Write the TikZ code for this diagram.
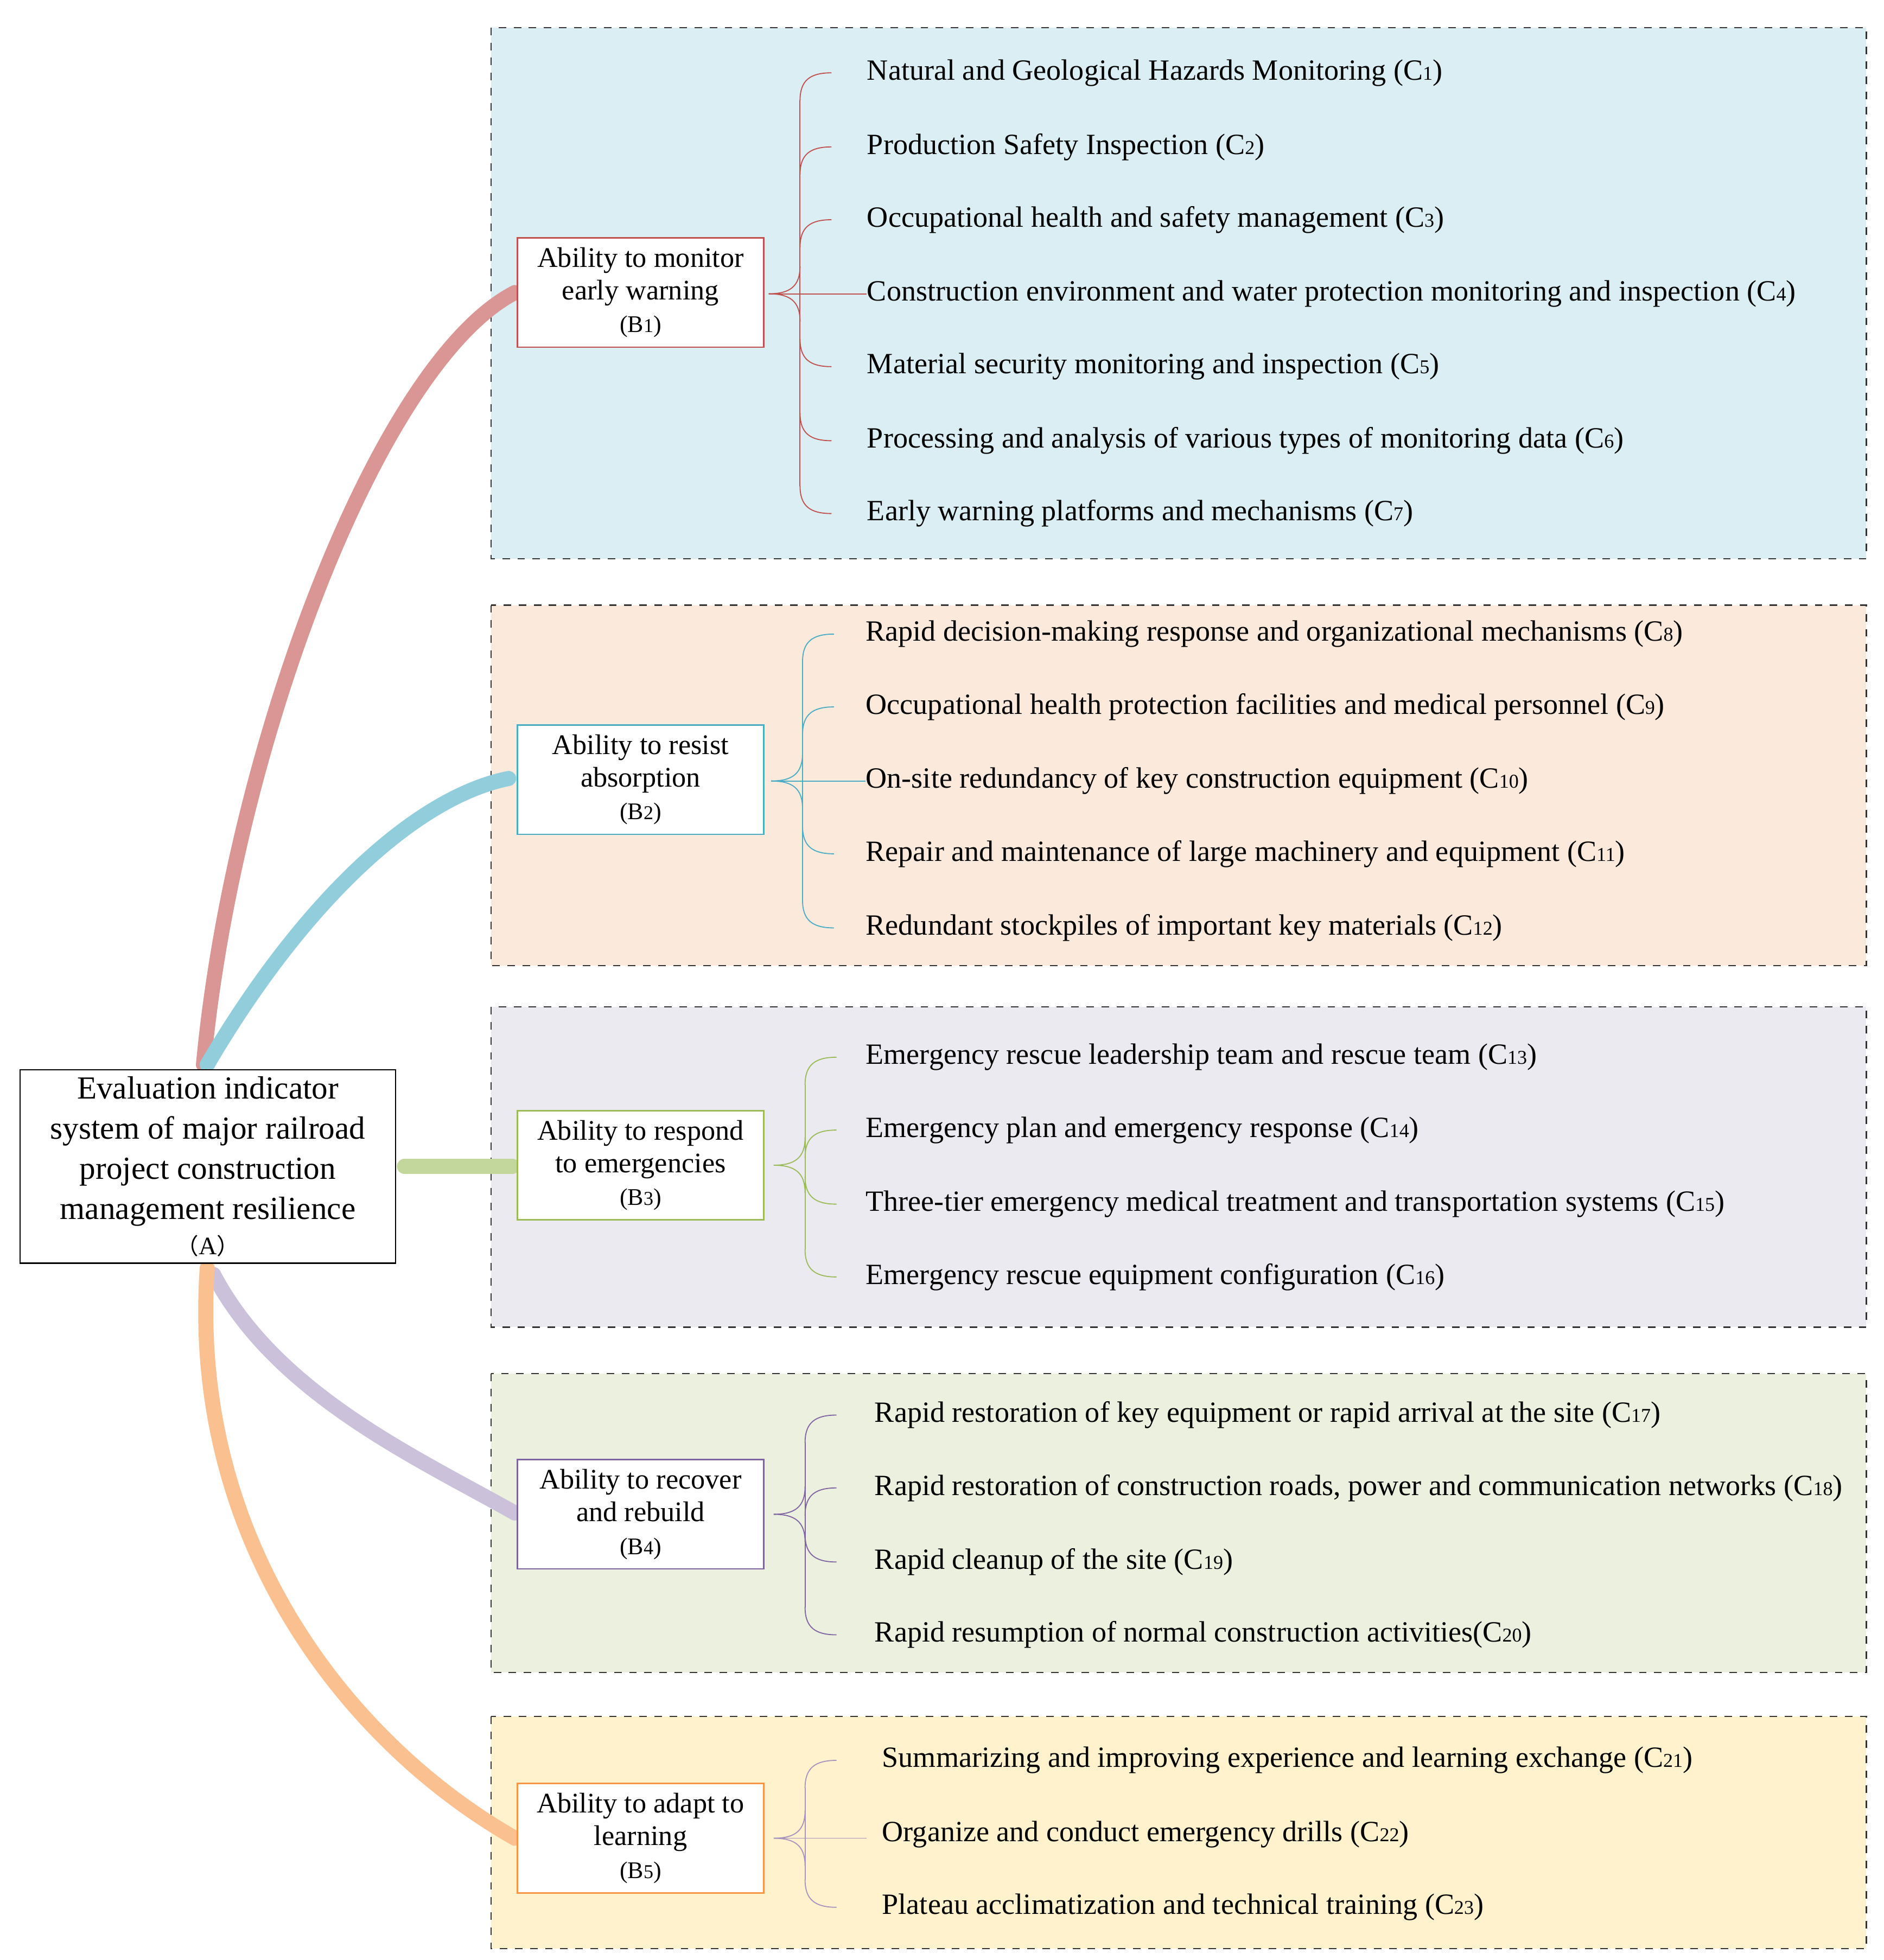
\documentclass[tikz,border=0pt]{standalone}
\usepackage{fontspec}
\setmainfont{Liberation Serif}
\newfontfamily\cjk{Noto Sans CJK SC}
\definecolor{pa}{HTML}{DAEEF3}\definecolor{pb}{HTML}{FBE9DB}\definecolor{pc}{HTML}{ECEAF1}
\definecolor{pd}{HTML}{EBF1DE}\definecolor{pe}{HTML}{FFF2CC}
\definecolor{ka}{HTML}{C0504D}\definecolor{kb}{HTML}{4BACC6}\definecolor{kc}{HTML}{9BBB59}
\definecolor{kd}{HTML}{8064A2}\definecolor{ke}{HTML}{F79646}
\definecolor{la}{HTML}{D99694}\definecolor{lb}{HTML}{92CDDC}\definecolor{lc}{HTML}{C3D69B}
\definecolor{ld}{HTML}{CCC1DA}\definecolor{le}{HTML}{FAC090}
\newcommand\subn[1]{{\fontsize{7.8}{8}\selectfont #1}}
\newcommand\bracegrp[7]{%
 \draw[#1] ({#2+25},{#4+22}) -- ({#2+25},{#5-22});
 \draw[#1] (#2,#3) .. controls ({#2+17},#3) and ({#2+25},{#3-6}) .. ({#2+25},{#3-22});
 \draw[#1] (#2,#3) .. controls ({#2+17},#3) and ({#2+25},{#3+6}) .. ({#2+25},{#3+22});
 \foreach \y in {#6} {\draw[#1] ({#2+25},{\y+22}) .. controls ({#2+25},{\y+6}) and ({#2+33},\y) .. ({#2+50},\y);}
 \foreach \y in {#7} {\draw[#1] ({#2+25},{\y-22}) .. controls ({#2+25},{\y-6}) and ({#2+33},\y) .. ({#2+50},\y);}
}
\begin{document}
\begin{tikzpicture}[x=0.5pt,y=-0.5pt,
 panel/.style={draw=black!80,dashed,line width=0.5pt},
 bbox/.style={draw,fill=white,line width=0.6pt,minimum width=98pt,minimum height=43.5pt,align=center,font=\fontsize{11.3}{13}\selectfont,inner sep=1pt},
 item/.style={anchor=west,font=\fontsize{11.7}{13}\selectfont,inner sep=0pt},
 link/.style={line width=6pt,line cap=round}]
\useasboundingbox (0,0) rectangle (1500,1561);
\fill[white] (0,0) rectangle (1500,1561);
\draw[panel,fill=pa] (391,22) rectangle (1486,445);
\draw[panel,fill=pb] (391,482) rectangle (1486,769);
\draw[panel,fill=pc] (391,802) rectangle (1486,1057);
\draw[panel,fill=pd] (391,1094) rectangle (1486,1332);
\draw[panel,fill=pe] (391,1367) rectangle (1486,1552);
% links
\draw[link,la] (162,848) .. controls (185,600) and (300,290) .. (410,233);
\draw[link,lb] (165,848) .. controls (240,720) and (330,635) .. (405,620);
\draw[link,lc] (322,929) -- (408,929);
\draw[link,ld] (170,1015) .. controls (220,1110) and (330,1160) .. (410,1205);
\draw[link,le] (165,1010) .. controls (150,1230) and (280,1390) .. (410,1464);
\node[draw,fill=white,line width=0.6pt,minimum width=149.5pt,minimum height=77pt,align=center,font=\fontsize{12.8}{16}\selectfont,inner sep=1pt] (A) at (165.5,929)
 {Evaluation indicator\\system of major railroad\\project construction\\management resilience\\[-2pt]{\cjk\fontsize{9}{10}\selectfont （}{\fontsize{10}{10}\selectfont A}{\cjk\fontsize{9}{10}\selectfont ）}};
\node[bbox,draw=ka] (B1) at (510,233) {Ability to monitor\\early warning\\{\fontsize{9.5}{10}\selectfont(B\subn{1})}};
\node[bbox,draw=kb] (B2) at (510,621) {Ability to resist\\absorption\\{\fontsize{9.5}{10}\selectfont(B\subn{2})}};
\node[bbox,draw=kc] (B3) at (510,928) {Ability to respond\\to emergencies\\{\fontsize{9.5}{10}\selectfont(B\subn{3})}};
\node[bbox,draw=kd] (B4) at (510,1206) {Ability to recover\\and rebuild\\{\fontsize{9.5}{10}\selectfont(B\subn{4})}};
\node[bbox,draw=ke] (B5) at (510,1464) {Ability to adapt to\\learning\\{\fontsize{9.5}{10}\selectfont(B\subn{5})}};
% braces
\bracegrp{ka}{612}{234}{58}{409}{58,117,175}{292,351,409}
\bracegrp{kb}{614}{622}{505}{739}{505,563}{680,739}
\bracegrp{kc}{616}{928}{842}{1017}{842,900}{959,1017}
\bracegrp{kd}{616}{1206}{1127}{1302}{1127,1185}{1244,1302}
\bracegrp{kd!70}{616}{1464}{1402}{1519}{1402}{1519}
% items
\node[item] (C1) at (690,58) {Natural and Geological Hazards Monitoring (C\subn{1})};
\node[item] (C2) at (690,117) {Production Safety Inspection (C\subn{2})};
\node[item] (C3) at (690,175) {Occupational health and safety management (C\subn{3})};
\node[item] (C4) at (690,234) {Construction environment and water protection monitoring and inspection (C\subn{4})};
\node[item] (C5) at (690,292) {Material security monitoring and inspection (C\subn{5})};
\node[item] (C6) at (690,351) {Processing and analysis of various types of monitoring data (C\subn{6})};
\node[item] (C7) at (690,409) {Early warning platforms and mechanisms (C\subn{7})};
\node[item] (C8) at (689,505) {Rapid decision-making response and organizational mechanisms (C\subn{8})};
\node[item] (C9) at (689,563) {Occupational health protection facilities and medical personnel (C\subn{9})};
\node[item] (C10) at (689,622) {On-site redundancy of key construction equipment (C\subn{10})};
\node[item] (C11) at (689,680) {Repair and maintenance of large machinery and equipment (C\subn{11})};
\node[item] (C12) at (689,739) {Redundant stockpiles of important key materials (C\subn{12})};
\node[item] (C13) at (689,842) {Emergency rescue leadership team and rescue team (C\subn{13})};
\node[item] (C14) at (689,900) {Emergency plan and emergency response (C\subn{14})};
\node[item] (C15) at (689,959) {Three-tier emergency medical treatment and transportation systems (C\subn{15})};
\node[item] (C16) at (689,1017) {Emergency rescue equipment configuration (C\subn{16})};
\node[item] (C17) at (696,1127) {Rapid restoration of key equipment or rapid arrival at the site (C\subn{17})};
\node[item] (C18) at (696,1185) {Rapid restoration of construction roads, power and communication networks (C\subn{18})};
\node[item] (C19) at (696,1244) {Rapid cleanup of the site (C\subn{19})};
\node[item] (C20) at (696,1302) {Rapid resumption of normal construction activities(C\subn{20})};
\node[item] (C21) at (702,1402) {Summarizing and improving experience and learning exchange (C\subn{21})};
\node[item] (C22) at (702,1461) {Organize and conduct emergency drills (C\subn{22})};
\node[item] (C23) at (702,1519) {Plateau acclimatization and technical training (C\subn{23})};
\draw[ka] (612,234) -- (C4.west);
\draw[kb] (614,622) -- (C10.west);
\draw[kd!70] (616,1464) -- (690,1464);
\end{tikzpicture}
\end{document}
